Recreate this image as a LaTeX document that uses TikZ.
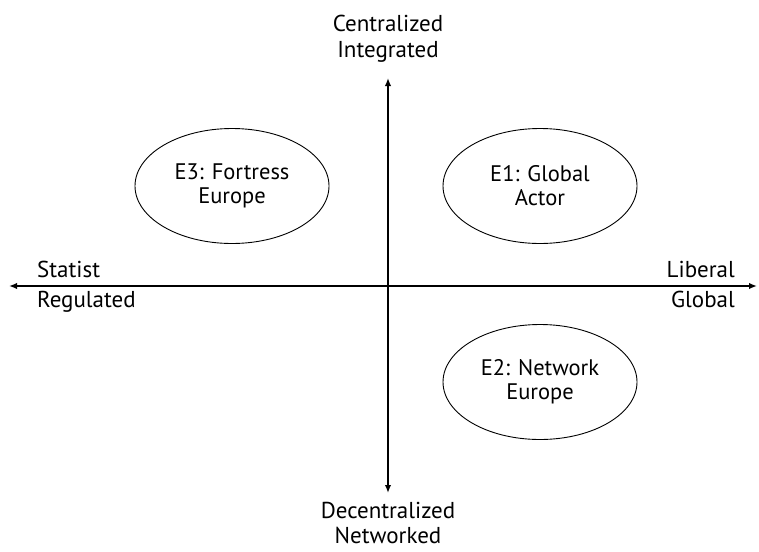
\documentclass[tikz,border=0pt]{standalone}
\usepackage{fontspec}
\setmainfont{PT Sans}
\usetikzlibrary{shapes.geometric,arrows.meta}

\tikzset{
  axis/.style={line width=1.6pt, {Latex[length=8pt,width=6.5pt]}-{Latex[length=8pt,width=6.5pt]}},
  scenario/.style={draw, line width=0.9pt, ellipse, minimum width=194pt, minimum height=115pt,
    inner sep=0pt, align=center, font=\fontsize{22.5}{24}\selectfont},
  label/.style={font=\fontsize{23}{26}\selectfont, inner sep=0pt, align=center}
}

\begin{document}
\begin{tikzpicture}[x=1pt, y=-1pt]

% Define dimensions
\def\W{759}  % width
\def\H{551}  % height
\def\cx{388} % vertical axis
\def\cy{286} % horizontal axis

\useasboundingbox (0,0) rectangle (\W,\H);

% Axis ends
\coordinate (west) at (9,\cy);
\coordinate (east) at (757,\cy);
\coordinate (north) at (\cx,78);
\coordinate (south) at (\cx,493);

% Draw axes
\draw[axis] (west) -- (east);
\draw[axis] (south) -- (north);

% Axis labels
\node[label] (centralized) at (\cx,39) {Centralized\\Integrated};
\node[label, font=\fontsize{23}{25}\selectfont] (decentralized) at (\cx,523) {Decentralized\\Networked};
\node[label, anchor=base west] (statist) at (37,277) {Statist};
\node[label, anchor=base west] (regulated) at (37,307) {Regulated};
\node[label, anchor=base east] (liberal) at (735,277) {Liberal};
\node[label, anchor=base east] (global) at (735,307) {Global};

% Scenarios
\node[scenario] (E3) at (232,186) {E3: Fortress\\Europe};
\node[scenario] (E1) at (540,186) {E1: Global\\Actor};
\node[scenario] (E2) at (540,382) {E2: Network\\Europe};

\end{tikzpicture}
\end{document}
